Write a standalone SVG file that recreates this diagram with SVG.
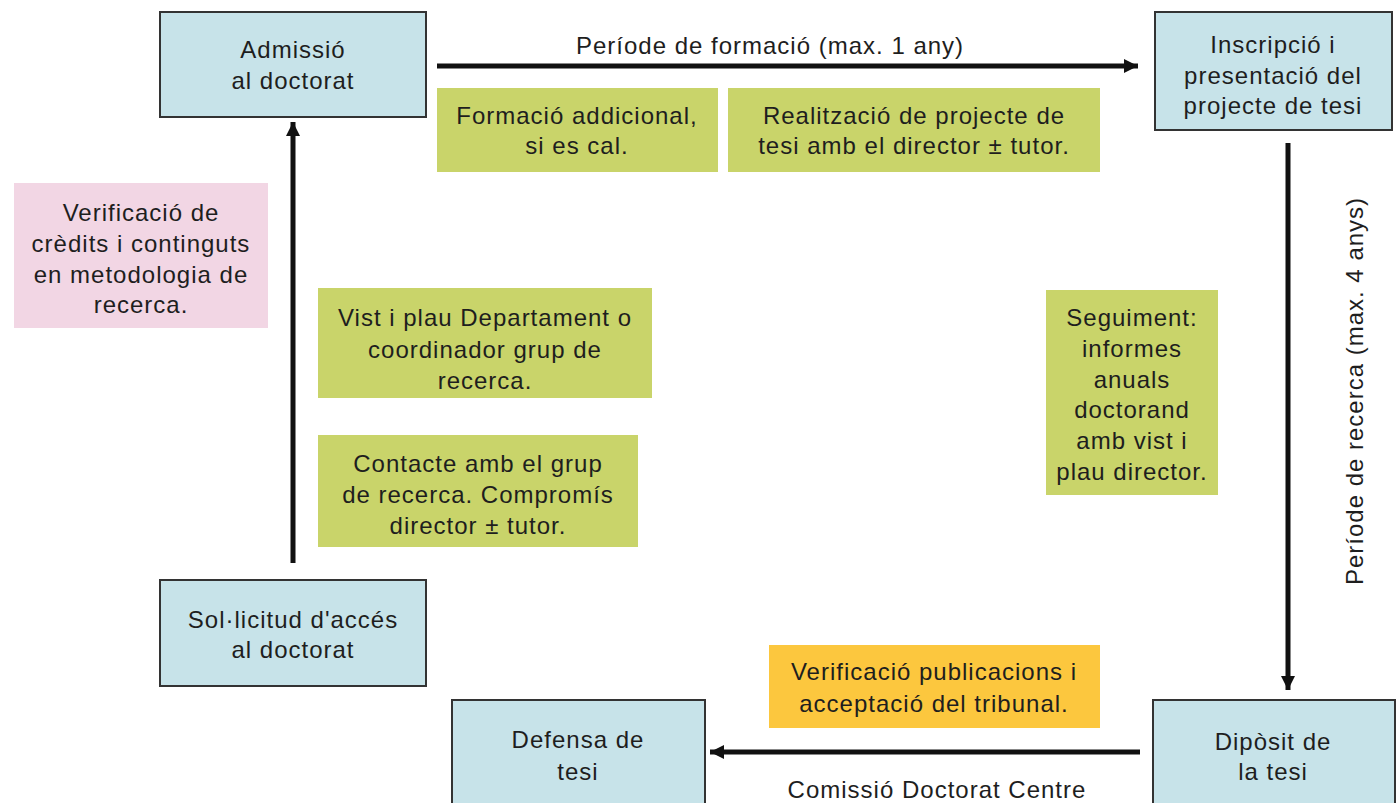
<svg xmlns="http://www.w3.org/2000/svg" width="1397" height="803" viewBox="0 0 1397 803">
<defs>
<marker id="ah" viewBox="0 0 14 14" markerWidth="14" markerHeight="14" refX="14" refY="7" orient="auto" markerUnits="userSpaceOnUse">
<path d="M0,0 L14,7 L0,14 Z" fill="#111"/>
</marker>
<style>
text{font-family:"Liberation Sans",Arial,sans-serif;font-size:24px;fill:#1e1e1e;text-anchor:middle;letter-spacing:1px}
.blue{fill:#c7e3e9;stroke:#333;stroke-width:2}
.green{fill:#c9d46a}
.pink{fill:#f2d6e4}
.orange{fill:#fcc73e}
.conn{stroke:#111;stroke-width:5;fill:none;marker-end:url(#ah)}
</style>
</defs>
<rect width="1397" height="803" fill="#fff"/>
<g id="connectors">
<line class="conn" x1="437" y1="66" x2="1138" y2="66"/>
<line class="conn" x1="1288" y1="143" x2="1288" y2="690"/>
<line class="conn" x1="293" y1="563" x2="293" y2="122"/>
<line class="conn" x1="1140" y1="752" x2="710" y2="752"/>
<text x="770" y="54">Període de formació (max. 1 any)</text>
<text transform="translate(1363,391) rotate(-90)">Període de recerca (max. 4 anys)</text>
<text x="937" y="798">Comissió Doctorat Centre</text>
</g>
<g id="admissio">
<rect class="blue" x="160" y="12" width="266" height="105"/>
<text x="293" y="58">Admissió</text>
<text x="293" y="89">al doctorat</text>
</g>
<g id="inscripcio">
<rect class="blue" x="1155" y="12" width="237" height="118"/>
<text x="1273" y="53">Inscripció i</text>
<text x="1273" y="84">presentació del</text>
<text x="1273" y="114">projecte de tesi</text>
</g>
<g id="formacio">
<rect class="green" x="437" y="88" width="281" height="84"/>
<text x="577" y="124">Formació addicional,</text>
<text x="577" y="154">si es cal.</text>
</g>
<g id="realitzacio">
<rect class="green" x="728" y="88" width="372" height="84"/>
<text x="914" y="124">Realització de projecte de</text>
<text x="914" y="154">tesi amb el director ± tutor.</text>
</g>
<g id="verificacio-credits">
<rect class="pink" x="14" y="183" width="254" height="145"/>
<text x="141" y="221">Verificació de</text>
<text x="141" y="252">crèdits i continguts</text>
<text x="141" y="283">en metodologia de</text>
<text x="141" y="313">recerca.</text>
</g>
<g id="vist-i-plau">
<rect class="green" x="318" y="288" width="334" height="110"/>
<text x="485" y="326">Vist i plau Departament o</text>
<text x="485" y="358">coordinador grup de</text>
<text x="485" y="389">recerca.</text>
</g>
<g id="contacte">
<rect class="green" x="318" y="435" width="320" height="112"/>
<text x="478" y="472">Contacte amb el grup</text>
<text x="478" y="503">de recerca. Compromís</text>
<text x="478" y="534">director ± tutor.</text>
</g>
<g id="seguiment">
<rect class="green" x="1046" y="290" width="172" height="205"/>
<text x="1132" y="326">Seguiment:</text>
<text x="1132" y="357">informes</text>
<text x="1132" y="388">anuals</text>
<text x="1132" y="418">doctorand</text>
<text x="1132" y="449">amb vist i</text>
<text x="1132" y="480">plau director.</text>
</g>
<g id="sollicitud">
<rect class="blue" x="160" y="580" width="266" height="106"/>
<text x="293" y="628">Sol·licitud d'accés</text>
<text x="293" y="658">al doctorat</text>
</g>
<g id="verificacio-publicacions">
<rect class="orange" x="769" y="645" width="331" height="83"/>
<text x="934" y="680">Verificació publicacions i</text>
<text x="934" y="712">acceptació del tribunal.</text>
</g>
<g id="defensa">
<rect class="blue" x="452" y="700" width="253" height="110"/>
<text x="578" y="748">Defensa de</text>
<text x="578" y="780">tesi</text>
</g>
<g id="diposit">
<rect class="blue" x="1153" y="700" width="242" height="110"/>
<text x="1273" y="750">Dipòsit de</text>
<text x="1273" y="780">la tesi</text>
</g>
</svg>
